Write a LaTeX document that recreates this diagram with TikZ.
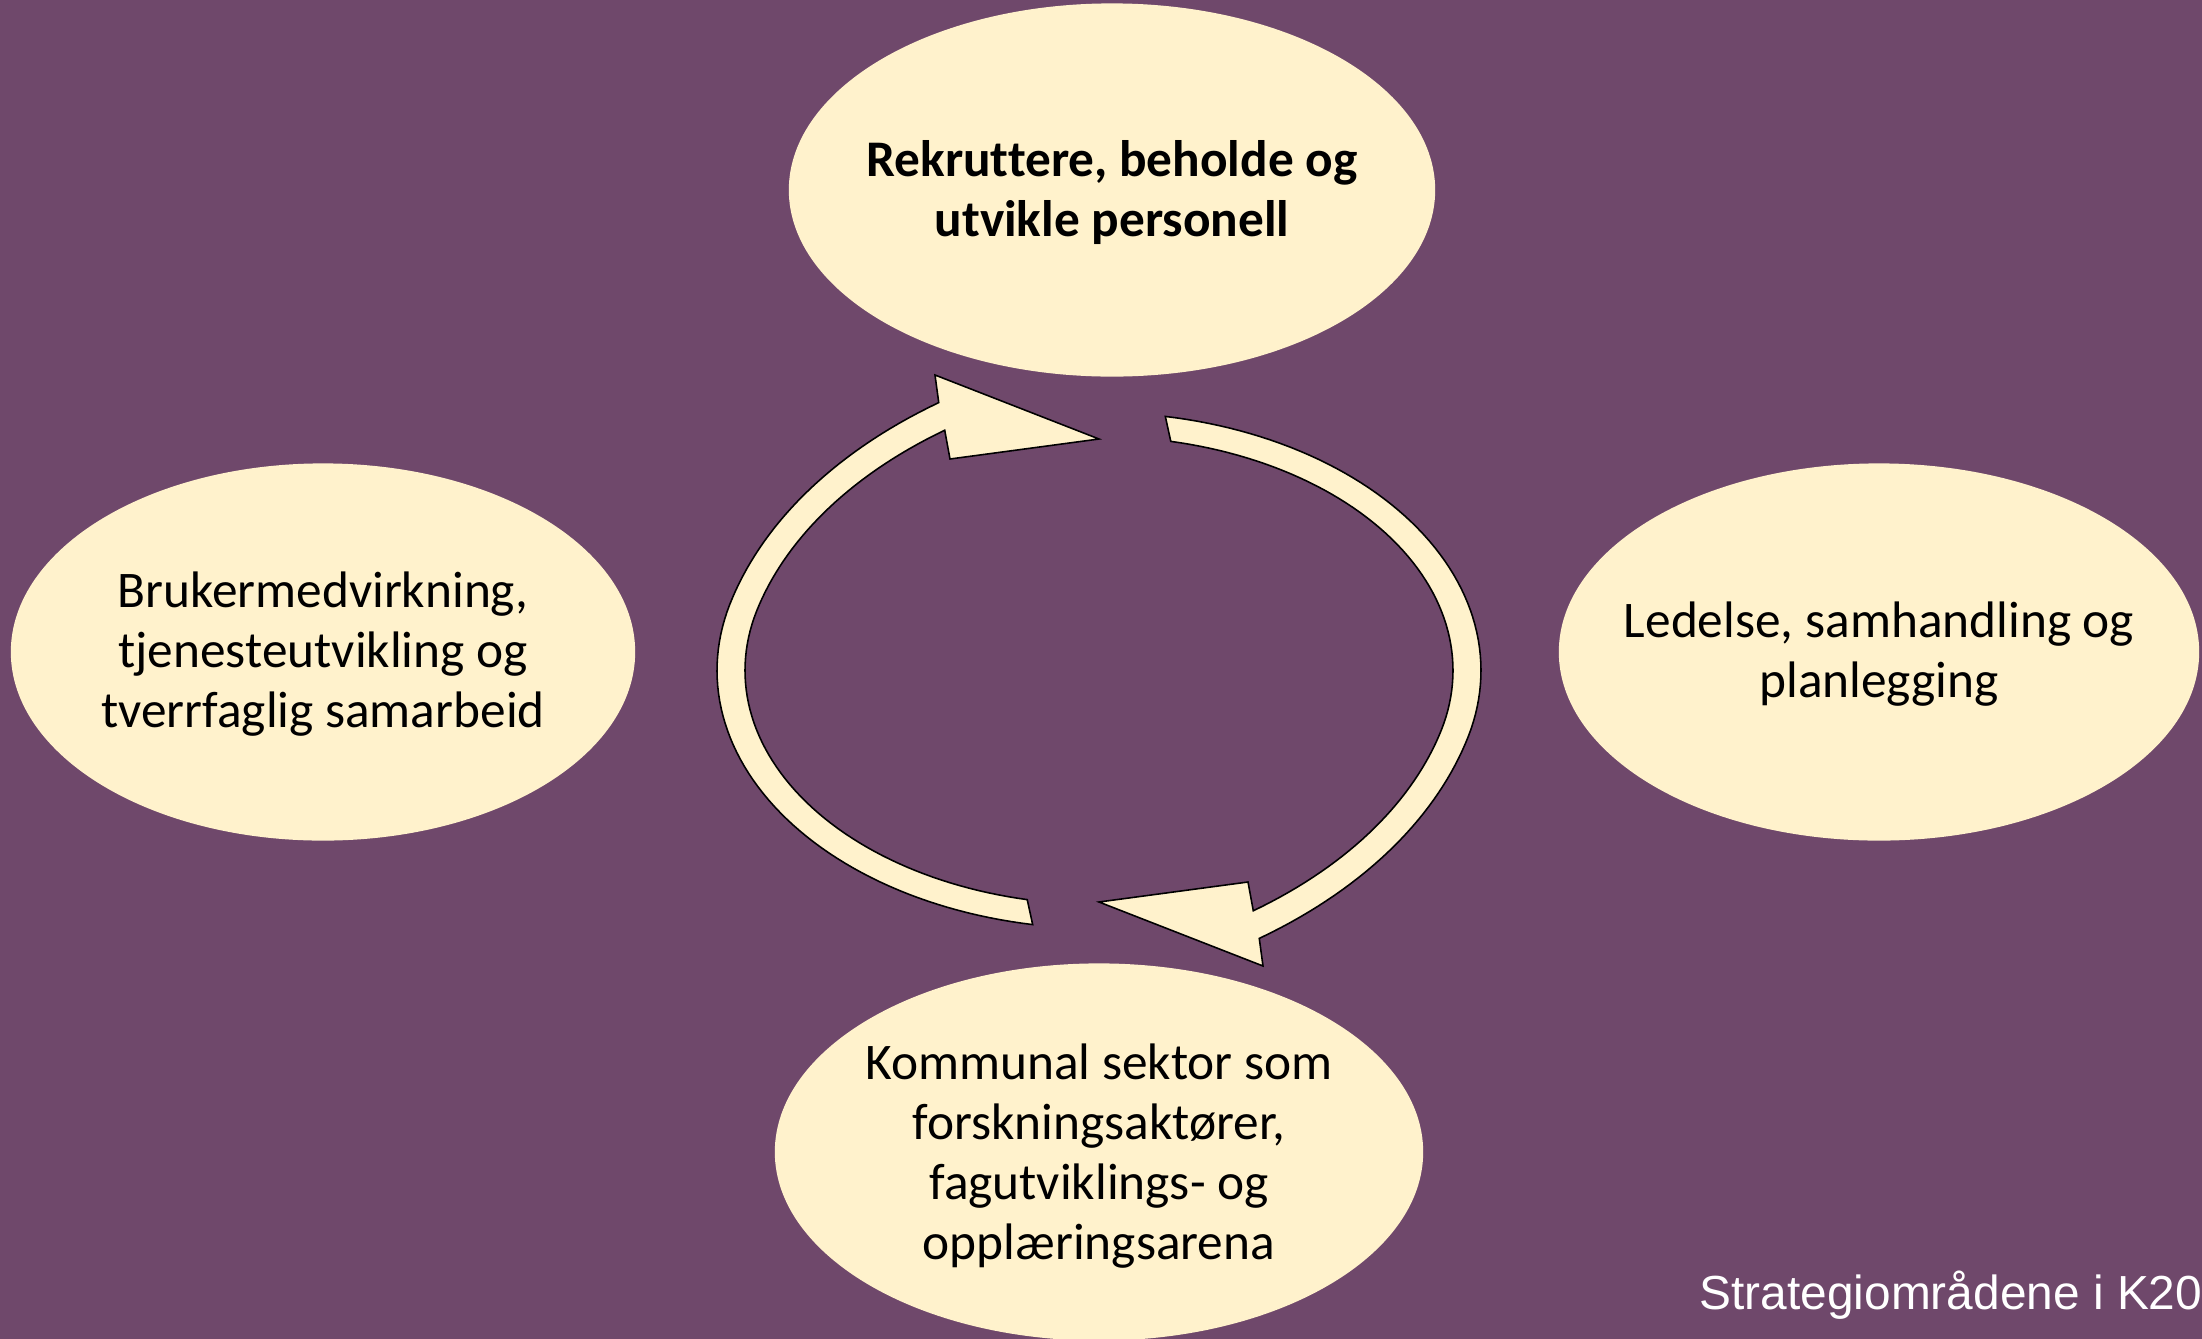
\documentclass[tikz,border=0pt]{standalone}
\usepackage{fontspec}
\setmainfont[Ligatures=NoCommon]{Carlito}
\newfontfamily\arialfont{Liberation Sans}
\usetikzlibrary{shapes.geometric}
\definecolor{bgpurple}{HTML}{6F486B}
\definecolor{cream}{HTML}{FFF2CC}
\pgfmathdeclarefunction{spk}{1}{\pgfmathparse{1+(max(0,#1-195)/153)*(max(0,#1-195)/153)}}
\begin{document}
\begin{tikzpicture}[x=0.01cm,y=-0.01cm,
  blob/.style={ellipse, fill=cream, inner sep=0pt},
  bodytext/.style={align=center, text=black, inner sep=0pt, font=\fontsize{14.6pt}{17.07pt}\selectfont},
  boldtext/.style={bodytext, font=\fontsize{14.6pt}{17.07pt}\selectfont\bfseries},
  cyclearrow/.style={fill=cream, draw=black, line width=0.45pt, line join=miter}]
\useasboundingbox (0,0) rectangle (2202,1339);
\fill[bgpurple] (0,0) rectangle (2202,1339);
\clip (0,0) rectangle (2202,1339);

\node[blob, minimum width=6.46cm, minimum height=3.73cm] (top) at (1112,190) {};
\node[blob, minimum width=6.24cm, minimum height=3.77cm] (left) at (323,652) {};
\node[blob, minimum width=6.40cm, minimum height=3.77cm] (right) at (1879,652) {};
\node[blob, minimum width=6.48cm, minimum height=3.77cm] (bottom) at (1099,1152) {};

\node[boldtext] (toptext) at (1112,193) {Rekruttere, beholde og\\utvikle personell};
\node[bodytext] (lefttext) at (323,654) {Brukermedvirkning,\\tjenesteutvikling og\\tverrfaglig samarbeid};
\node[bodytext] (righttext) at (1879,654) {Ledelse, samhandling og\\planlegging};
\node[bodytext] (bottomtext) at (1099,1156) {Kommunal sektor som\\forskningsaktører,\\fagutviklings- og\\opplæringsarena};

% circular arrows
\path[cyclearrow]
  plot[domain=100:248, samples=90, variable=\t] ({1099+382*spk(\t)*cos(\t)}, {670.5+258*spk(\t)*sin(\t)})
  -- (935,375) -- (1099,439) -- (950,459)
  -- plot[domain=247:101.7, samples=90, variable=\t] ({1099+354*spk(\t)*cos(\t)}, {670.5+234*spk(\t)*sin(\t)})
  -- cycle;
\begin{scope}[rotate around={180:(1099,670.5)}]
\path[cyclearrow]
  plot[domain=100:248, samples=90, variable=\t] ({1099+382*spk(\t)*cos(\t)}, {670.5+258*spk(\t)*sin(\t)})
  -- (935,375) -- (1099,439) -- (950,459)
  -- plot[domain=247:101.7, samples=90, variable=\t] ({1099+354*spk(\t)*cos(\t)}, {670.5+234*spk(\t)*sin(\t)})
  -- cycle;
\end{scope}

\node[anchor=base west, text=white, inner sep=0pt, font=\arialfont\fontsize{13.6pt}{16pt}\selectfont] (caption) at (1699,1309) {Strategiområdene i K20};
\end{tikzpicture}
\end{document}
